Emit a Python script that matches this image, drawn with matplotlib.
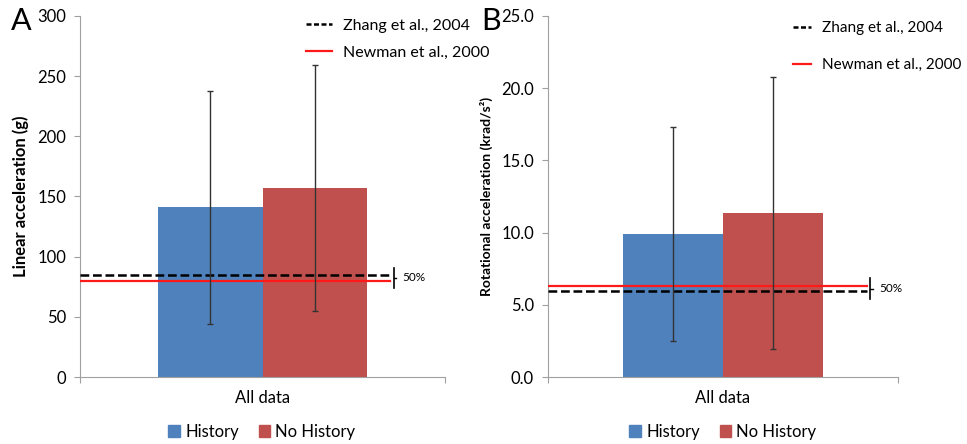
import numpy as np
import matplotlib
matplotlib.use('Agg')
import matplotlib.pyplot as plt
from matplotlib.lines import Line2D
from matplotlib.patches import Patch

plt.rcParams['font.family'] = ['Lato', 'DejaVu Sans']

# data
groups = ['History', 'No History']
bar_colors = ['#4F81BD', '#C0504D']

lin_mean = [141, 157]
lin_lo = [44, 55]
lin_hi = [238, 259]
lin_zhang = 85
lin_newman = 80

rot_mean = [9.9, 11.35]
rot_lo = [2.5, 1.95]
rot_hi = [17.3, 20.8]
rot_zhang = 5.95
rot_newman = 6.3

fig = plt.figure(figsize=(9.67, 4.44), dpi=100)
axA = fig.add_axes([80/967, 1-377/444, 365/967, 361/444])
axB = fig.add_axes([548/967, 1-377/444, 350/967, 361/444])

def panel(ax, mean, lo, hi, zhang, newman, ymax, step, fmt, ylabel, letter,
          line_end, ylab_size):
    w = 0.285
    xs = np.array([-w/2, w/2])
    mean = np.array(mean)
    err = np.array([mean - np.array(lo), np.array(hi) - mean])
    ax.bar(xs, mean, width=w, color=bar_colors, zorder=2)
    ax.errorbar(xs, mean, yerr=err, fmt='none', ecolor='#333333',
                elinewidth=1.0, capsize=2.5, capthick=1.0, zorder=4)
    ax.plot([-0.5, line_end], [zhang, zhang], color='black', ls=(0, (3.5, 1.5)),
            lw=1.8, zorder=3)
    ax.plot([-0.5, line_end], [newman, newman], color='#FF1A1A', lw=1.6,
            zorder=3)
    # bracket and 50% label
    lo_y, hi_y = min(zhang, newman), max(zhang, newman)
    mid = (lo_y + hi_y) / 2
    half = ymax * 0.028
    bx = line_end + 0.01
    ax.plot([bx, bx], [mid - half, mid + half], color='black', lw=1.2,
            clip_on=False)
    ax.plot([bx, bx + 0.008], [mid, mid], color='black', lw=1.0,
            clip_on=False)
    ax.text(bx + 0.025, mid, '50%', fontsize=8.5, va='center', ha='left')
    ax.set_xlim(-0.5, 0.5)
    ax.set_ylim(0, ymax)
    ticks = np.arange(0, ymax + step/2, step)
    ax.set_yticks(ticks)
    ax.set_yticklabels([fmt.format(v) for v in ticks], fontsize=12)
    ax.set_xticks([-0.5, 0.5])
    ax.set_xticklabels(['', ''])
    ax.set_xticks([0], minor=True)
    ax.set_xticklabels(['All data'], minor=True, fontsize=12)
    ax.tick_params(axis='x', which='minor', length=0, pad=9)
    ax.tick_params(axis='x', which='major', length=4, color='#A0A0A0')
    ax.tick_params(axis='y', length=4, color='#A0A0A0', pad=6)
    for s in ['top', 'right']:
        ax.spines[s].set_visible(False)
    for s in ['left', 'bottom']:
        ax.spines[s].set_color('#A0A0A0')
    ax.set_ylabel(ylabel, fontsize=ylab_size, fontweight='bold', labelpad=6)
    ax.text(-0.19, 0.985, letter, transform=ax.transAxes, fontsize=22,
            va='center', ha='left')

panel(axA, lin_mean, lin_lo, lin_hi, lin_zhang, lin_newman, 300, 50, '{:.0f}',
      'Linear acceleration (g)', 'A', 0.349, 12)
panel(axB, rot_mean, rot_lo, rot_hi, rot_zhang, rot_newman, 25.0, 5.0, '{:.1f}',
      'Rotational acceleration (krad/s²)', 'B', 0.411, 10)

top_handles = [Line2D([], [], color='black', ls=(0, (2, 1)), lw=1.8),
               Line2D([], [], color='#FF1A1A', lw=1.6)]
top_labels = ['Zhang et al., 2004', 'Newman et al., 2000']
bot_handles = [Patch(color=c) for c in bar_colors]

axA.legend(top_handles, top_labels, loc='upper left',
           bbox_to_anchor=(300/967, 1-12/444), bbox_transform=fig.transFigure,
           frameon=False, fontsize=11.5, handlelength=1.6, labelspacing=0.8,
           handletextpad=0.7, borderaxespad=0)
axB.legend(top_handles, top_labels, loc='upper left',
           bbox_to_anchor=(787/967, 1-15/444), bbox_transform=fig.transFigure,
           frameon=False, fontsize=11, handlelength=1.2, labelspacing=1.5,
           handletextpad=0.7, borderaxespad=0)

for cx in [262, 723]:
    fig.legend(bot_handles, groups, loc='center', bbox_to_anchor=(cx/967, 1-432/444),
               ncol=2, frameon=False, fontsize=12, handlelength=0.7,
               handleheight=0.7, handletextpad=0.3, columnspacing=1.2)

fig.savefig('out.png', dpi=100)
